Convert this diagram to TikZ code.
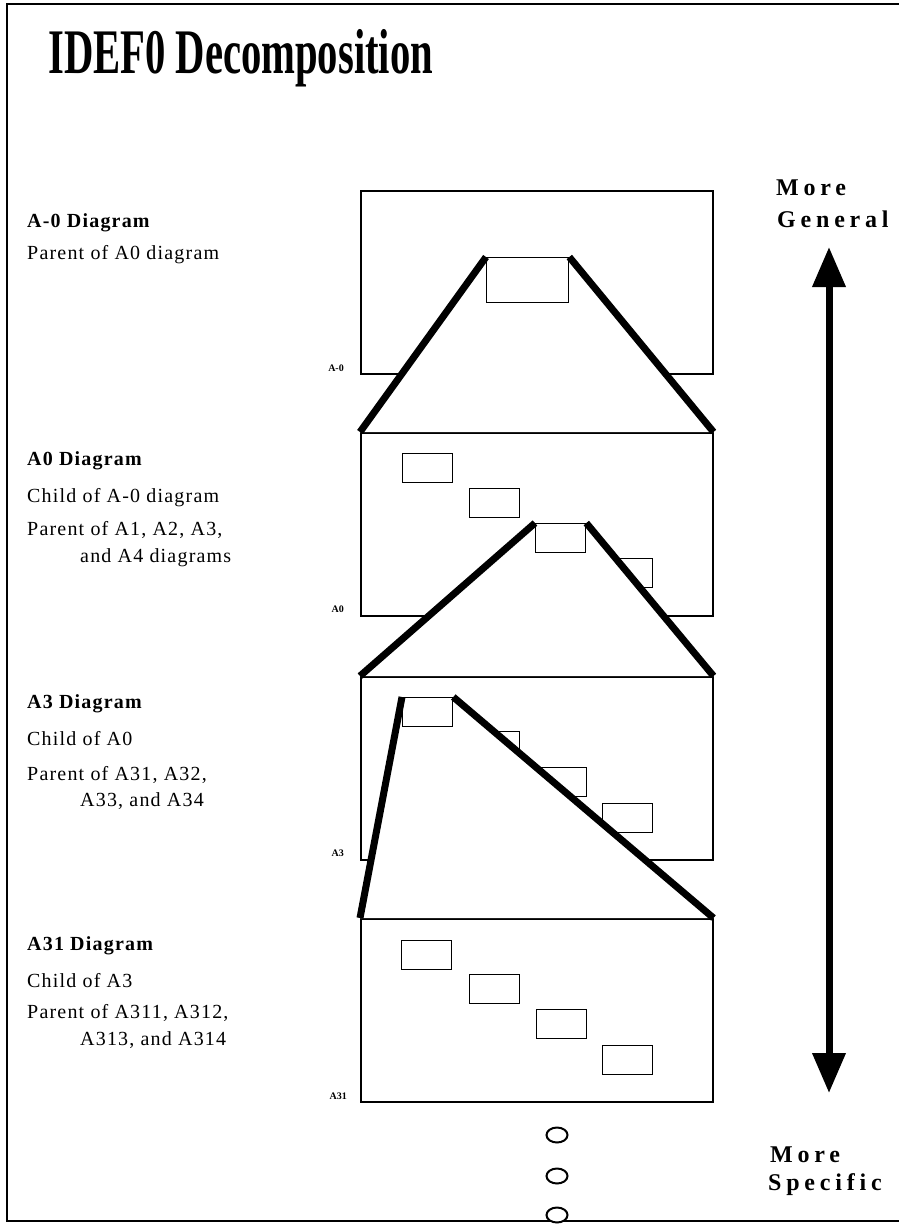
\documentclass[tikz,border=0pt]{standalone}
\usepackage{fontspec}
\setmainfont{Liberation Serif}
\newfontfamily\fuenteNota[LetterSpace=6]{Liberation Serif}
\newfontfamily\fuenteNivel[LetterSpace=20]{Liberation Serif}
\usetikzlibrary{arrows.meta, shapes.geometric}
\colorlet{colTinta}{black}
\pgfdeclarelayer{proyeccion}
\pgfdeclarelayer{frente}
\pgfsetlayers{main,proyeccion,frente}
\tikzset{
  marcoHoja/.style={draw=colTinta, line width=2pt},
  marcoDiagrama/.style={
    draw=colTinta, line width=1.5pt, anchor=north west,
    minimum width=352pt, minimum height=183pt, inner sep=0pt
  },
  cajaHija/.style={
    draw=colTinta, line width=1.3pt, anchor=north west,
    minimum width=50pt, minimum height=29pt, inner sep=0pt
  },
  cajaPadre/.style={cajaHija, minimum width=82pt, minimum height=45pt},
  proyeccion/.style={line width=7pt, colTinta},
  tapaBlanca/.style={fill=white},
  tituloPrincipal/.style={font=\fontsize{63.5}{70}\selectfont\bfseries,
    anchor=base west, inner sep=0pt},
  nombreDiagrama/.style={font=\fuenteNota\fontsize{20}{24}\selectfont\bfseries,
    anchor=base west, inner sep=0pt},
  notaDiagrama/.style={font=\fuenteNota\fontsize{20}{24}\selectfont,
    anchor=base west, inner sep=0pt},
  numDiagrama/.style={font=\fontsize{10}{12}\selectfont\bfseries,
    anchor=base east, inner sep=0pt},
  etiquetaNivel/.style={font=\fuenteNivel\fontsize{24}{28}\selectfont\bfseries,
    anchor=base west, inner sep=0pt},
  flechaNivel/.style={{Triangle[length=40pt,width=32pt]}-{Triangle[length=40pt,width=32pt]},
    line width=7pt, colTinta},
  puntoSigue/.style={ellipse, draw=colTinta, line width=2pt, fill=white,
    minimum width=21pt, minimum height=15pt, inner sep=0pt},
}

\begin{document}
\begin{tikzpicture}[x=1pt, y=-1pt]
  \useasboundingbox (0,0) rectangle (898,1224);
  \draw[marcoHoja] (899,4) -- (7,4) -- (7,1221) -- (899,1221);
  \node[tituloPrincipal] (titulo) at (48,73) {\scalebox{0.64}[1]{IDEF0 Decomposition}};

  % textos de cada nivel
  \node[nombreDiagrama] (tAm0) at (27,227) {A-0 Diagram};
  \node[notaDiagrama] (pAm0) at (27,259) {Parent of A0 diagram};

  \node[nombreDiagrama] (tA0) at (27,465) {A0 Diagram};
  \node[notaDiagrama] (hA0) at (27,502) {Child of A-0 diagram};
  \node[notaDiagrama] (pA0) at (27,535) {Parent of A1, A2, A3,};
  \node[notaDiagrama] (pA0b) at (80,562) {and A4 diagrams};

  \node[nombreDiagrama] (tA3) at (27,708) {A3 Diagram};
  \node[notaDiagrama] (hA3) at (27,745) {Child of A0};
  \node[notaDiagrama] (pA3) at (27,780) {Parent of A31, A32,};
  \node[notaDiagrama] (pA3b) at (80,806) {A33, and A34};

  \node[nombreDiagrama] (tA31) at (27,950) {A31 Diagram};
  \node[notaDiagrama] (hA31) at (27,987) {Child of A3};
  \node[notaDiagrama] (pA31) at (27,1018) {Parent of A311, A312,};
  \node[notaDiagrama] (pA31b) at (80,1045) {A313, and A314};

  % marcos de diagrama
  \node[marcoDiagrama] (dAm0) at (360,190) {};
  \node[marcoDiagrama] (dA0) at (360,432) {};
  \node[marcoDiagrama] (dA3) at (360,676) {};
  \node[marcoDiagrama] (dA31) at (360,918) {};

  \node[numDiagrama] at ([shift={(-16,-3)}]dAm0.south west) {A-0};
  \node[numDiagrama] at ([shift={(-16,-4)}]dA0.south west) {A0};
  \node[numDiagrama] at ([shift={(-16,-4)}]dA3.south west) {A3};
  \node[numDiagrama] at ([shift={(-13,-3)}]dA31.south west) {A31};

  % cajas hijas
  \node[cajaHija] (bA1) at ([shift={(42,21)}]dA0.north west) {};
  \node[cajaHija] (bA2) at ([shift={(109,56)}]dA0.north west) {};
  \node[cajaHija] (bA4) at ([shift={(242,126)}]dA0.north west) {};

  \node[cajaHija] (bA32) at ([shift={(109,55)}]dA3.north west) {};
  \node[cajaHija] (bA33) at ([shift={(176,91)}]dA3.north west) {};
  \node[cajaHija] (bA34) at ([shift={(242,127)}]dA3.north west) {};

  \node[cajaHija] (bA311) at ([shift={(41,22)}]dA31.north west) {};
  \node[cajaHija] (bA312) at ([shift={(109,56)}]dA31.north west) {};
  \node[cajaHija] (bA313) at ([shift={(176,91)}]dA31.north west) {};
  \node[cajaHija] (bA314) at ([shift={(242,127)}]dA31.north west) {};

  % caja que se descompone en el nivel siguiente
  \begin{pgfonlayer}{frente}
    \node[cajaPadre] (bAm0) at ([shift={(126,67)}]dAm0.north west) {};
    \node[cajaHija] (bA3) at ([shift={(175,91)}]dA0.north west) {};
    \node[cajaHija] (bA31) at ([shift={(42,21)}]dA3.north west) {};
  \end{pgfonlayer}

  \begin{pgfonlayer}{proyeccion}
    \fill[tapaBlanca] (bAm0.north west) -- (bAm0.north east) -- (dA0.north east) -- (dA0.north west) -- cycle;
    \fill[tapaBlanca] (bA3.north west) -- (bA3.north east) -- (dA3.north east) -- (dA3.north west) -- cycle;
    \fill[tapaBlanca] (bA31.north west) -- (bA31.north east) -- (dA31.north east) -- (dA31.north west) -- cycle;
  \end{pgfonlayer}

  \begin{pgfonlayer}{frente}
    \draw[proyeccion] (bAm0.north west) -- (dA0.north west);
    \draw[proyeccion] (bAm0.north east) -- (dA0.north east);
    \draw[proyeccion] (bA3.north west) -- (dA3.north west);
    \draw[proyeccion] (bA3.north east) -- (dA3.north east);
    \draw[proyeccion] (bA31.north west) -- (dA31.north west);
    \draw[proyeccion] (bA31.north east) -- (dA31.north east);
  \end{pgfonlayer}

  % sentido de la descomposicion
  \node[etiquetaNivel] (masG1) at (776,195) {More};
  \node[etiquetaNivel] (masG2) at (777,227) {General};
  \node[etiquetaNivel] (masE1) at (770,1162) {More};
  \node[etiquetaNivel] (masE2) at (768,1190) {Specific};
  \coordinate (extGeneral) at (829,247);
  \coordinate (extEspecifico) at (829,1093);
  \draw[flechaNivel] (extEspecifico) -- (extGeneral);

  \node[puntoSigue] (sigue1) at (557,1135) {};
  \node[puntoSigue] (sigue2) at (557,1176) {};
  \node[puntoSigue] (sigue3) at (557,1215) {};
\end{tikzpicture}
\end{document}
